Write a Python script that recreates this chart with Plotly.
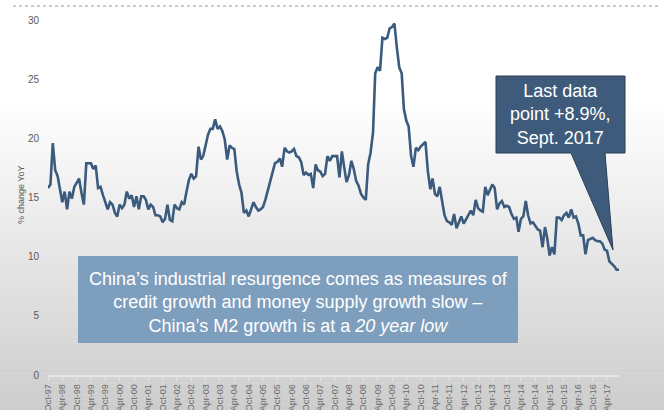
import pandas as pd
import plotly.graph_objects as go

# ---- data: China M2 money supply, % change YoY, monthly Oct-97 .. Sep-17 ----
m2_1997_98 = [15.8, 16.1, 19.6, 17.3, 16.8, 15.6, 14.6, 15.5, 14.0, 15.5, 14.9, 15.9]
m2_1998_99 = [16.3, 16.6, 15.4, 14.4, 17.9, 17.9, 17.9, 17.4, 17.7, 15.8, 15.9, 15.2]
m2_1999_00 = [14.5, 14.0, 14.6, 14.4, 13.7, 13.4, 14.4, 14.1, 14.4, 15.5, 14.9, 15.2]
m2_2000_01 = [14.2, 15.1, 14.0, 15.1, 15.1, 14.8, 14.0, 14.4, 14.2, 13.5, 13.5, 13.4]
m2_2001_02 = [12.9, 13.2, 14.4, 13.1, 13.0, 14.4, 14.1, 14.0, 14.6, 14.4, 15.5, 16.5]
m2_2002_03 = [17.0, 16.6, 16.8, 19.3, 18.2, 18.5, 19.4, 20.3, 20.8, 20.8, 21.6, 20.8]
m2_2003_04 = [21.0, 20.6, 19.9, 18.2, 19.4, 19.2, 19.1, 17.2, 16.1, 15.4, 13.7, 13.9]
m2_2004_05 = [13.4, 14.1, 14.6, 14.2, 13.9, 14.0, 14.2, 14.8, 15.6, 16.2, 17.2, 17.9]
m2_2005_06 = [18.0, 18.3, 17.6, 19.2, 18.9, 18.8, 18.9, 19.1, 18.5, 18.4, 18.0, 16.9]
m2_2006_07 = [17.1, 16.9, 17.0, 15.8, 17.8, 17.3, 17.2, 16.8, 17.0, 18.5, 18.1, 18.5]
m2_2007_08 = [18.5, 18.5, 16.7, 18.9, 17.5, 16.3, 16.9, 18.1, 17.4, 16.4, 16.0, 15.3]
m2_2008_09 = [15.0, 14.8, 17.8, 18.8, 20.5, 25.5, 26.0, 25.7, 28.5, 28.4, 28.5, 29.3]
m2_2009_10 = [29.4, 29.7, 27.7, 26.0, 25.5, 22.5, 21.5, 21.0, 18.5, 17.6, 19.2, 19.0]
m2_2010_11 = [19.3, 19.5, 19.7, 17.2, 15.7, 16.6, 15.3, 15.1, 15.9, 14.7, 13.5, 13.0]
m2_2011_12 = [12.9, 12.7, 13.6, 12.4, 13.0, 13.4, 12.8, 13.2, 13.6, 13.9, 13.5, 14.8]
m2_2012_13 = [14.1, 13.9, 13.8, 15.9, 15.2, 15.7, 16.1, 15.8, 14.0, 14.5, 14.7, 14.2]
m2_2013_14 = [14.3, 14.2, 13.6, 13.2, 13.3, 12.1, 13.2, 13.4, 14.7, 13.5, 12.8, 12.9]
m2_2014_15 = [12.6, 12.3, 12.2, 10.8, 12.5, 11.6, 10.1, 10.8, 10.2, 13.3, 13.3, 13.1]
m2_2015_16 = [13.5, 13.7, 13.3, 14.0, 13.3, 13.4, 12.8, 11.8, 11.8, 10.2, 11.4, 11.5]
m2_2016_17 = [11.6, 11.4, 11.3, 11.3, 11.1, 10.6, 10.5, 9.6, 9.4, 9.2, 8.9, 8.9]

values = (m2_1997_98 + m2_1998_99 + m2_1999_00 + m2_2000_01 + m2_2001_02 +
          m2_2002_03 + m2_2003_04 + m2_2004_05 + m2_2005_06 + m2_2006_07 +
          m2_2007_08 + m2_2008_09 + m2_2009_10 + m2_2010_11 + m2_2011_12 +
          m2_2012_13 + m2_2013_14 + m2_2014_15 + m2_2015_16 + m2_2016_17)
dates = pd.date_range("1997-10-01", periods=len(values), freq="MS")

tick_labels = ["Oct-97", "Apr-98", "Oct-98", "Apr-99", "Oct-99", "Apr-00", "Oct-00",
               "Apr-01", "Oct-01", "Apr-02", "Oct-02", "Apr-03", "Oct-03", "Apr-04",
               "Oct-04", "Apr-05", "Oct-05", "Apr-06", "Oct-06", "Apr-07", "Oct-07",
               "Apr-08", "Oct-08", "Apr-09", "Oct-09", "Apr-10", "Oct-10", "Apr-11",
               "Oct-11", "Apr-12", "Oct-12", "Apr-13", "Oct-13", "Apr-14", "Oct-14",
               "Apr-15", "Oct-15", "Apr-16", "Oct-16", "Apr-17"]
tick_vals = pd.date_range("1997-10-01", periods=len(tick_labels), freq="6MS")

y_ticks = [0, 5, 10, 15, 20, 25, 30]

# ---- layout geometry ----
W, H = 664, 410
ML, MR, MT, MB = 48, 45, 20, 35
PW, PH = W - ML - MR, H - MT - MB
FONT = "Liberation Sans, Arial, sans-serif"


def px(x):
    return (x - ML) / PW


def py(y):
    return (H - MB - y) / PH


fig = go.Figure()
fig.add_trace(go.Scatter(x=dates, y=values, mode="lines",
                         line=dict(color="#3a5a7e", width=2.6),
                         hoverinfo="skip", showlegend=False))

shapes = []
# background gradient (white at top to grey at bottom)
n = 60
y_start = 100
for i in range(n):
    y0 = y_start + (H - y_start) * i / n
    y1 = y_start + (H - y_start) * (i + 1) / n
    t = (i + 0.5) / n
    v = int(round(255 - (255 - 205) * t))
    shapes.append(dict(type="rect", xref="paper", yref="paper",
                       x0=px(0), x1=px(W), y0=py(y1), y1=py(y0 - 0.5),
                       fillcolor=f"rgb({v},{v},{v})", line=dict(width=0),
                       layer="below"))
# dotted line at top
shapes.append(dict(type="line", xref="paper", yref="paper",
                   x0=px(13), x1=px(660), y0=py(6), y1=py(6),
                   line=dict(color="#9a9a9a", width=1.2, dash="dot")))
# text box
shapes.append(dict(type="rect", xref="paper", yref="paper",
                   x0=px(78), x1=px(518), y0=py(343), y1=py(256),
                   fillcolor="#7e9ebe", line=dict(width=0)))
# callout with tail
pts = [(496, 76), (625, 76), (625, 153), (605, 153), (613, 250), (571, 153), (496, 153)]
path = "M " + " L ".join(f"{px(a):.5f},{py(b):.5f}" for a, b in pts) + " Z"
shapes.append(dict(type="path", xref="paper", yref="paper", path=path,
                   fillcolor="#3f5b7b", line=dict(color="#2b3f57", width=1)))

annotations = [
    dict(xref="paper", yref="paper", x=px(298), y=py(302),
         text="China’s industrial resurgence comes as measures of<br>"
              "credit growth and money supply growth slow –<br>"
              "China’s M2 growth is at a <i>20 year low</i>",
         showarrow=False, font=dict(family=FONT, size=18, color="white"),
         align="center", xanchor="center", yanchor="middle"),
    dict(xref="paper", yref="paper", x=px(560), y=py(115),
         text="Last data<br>point +8.9%,<br>Sept. 2017",
         showarrow=False, font=dict(family=FONT, size=18, color="white"),
         align="center", xanchor="center", yanchor="middle"),
    dict(xref="paper", yref="paper", x=px(21), y=py(195),
         text="% change YoY", textangle=-90, showarrow=False,
         font=dict(family=FONT, size=9, color="#595959"),
         xanchor="center", yanchor="middle"),
]

fig.update_layout(
    width=W, height=H,
    margin=dict(l=ML, r=MR, t=MT, b=MB, pad=0),
    paper_bgcolor="white", plot_bgcolor="rgba(0,0,0,0)",
    font=dict(family=FONT),
    shapes=shapes, annotations=annotations,
    xaxis=dict(range=[dates[0], dates[-1]], tickvals=tick_vals, ticktext=tick_labels,
               tickangle=-90, tickfont=dict(family=FONT, size=9, color="#6a6a6a"),
               ticks="outside", ticklen=4, tickcolor="#e6e6e6", tickwidth=1,
               showline=True, linecolor="#e6e6e6", linewidth=1.5,
               showgrid=False, zeroline=False, automargin=False, fixedrange=True),
    yaxis=dict(range=[0, 30], tickvals=y_ticks, showgrid=False, zeroline=False,
               showline=False, ticks="", ticklabelstandoff=8,
               tickfont=dict(family=FONT, size=10, color="#595959"),
               automargin=False, fixedrange=True),
)

fig.write_html("out.html", config={"displayModeBar": False})
